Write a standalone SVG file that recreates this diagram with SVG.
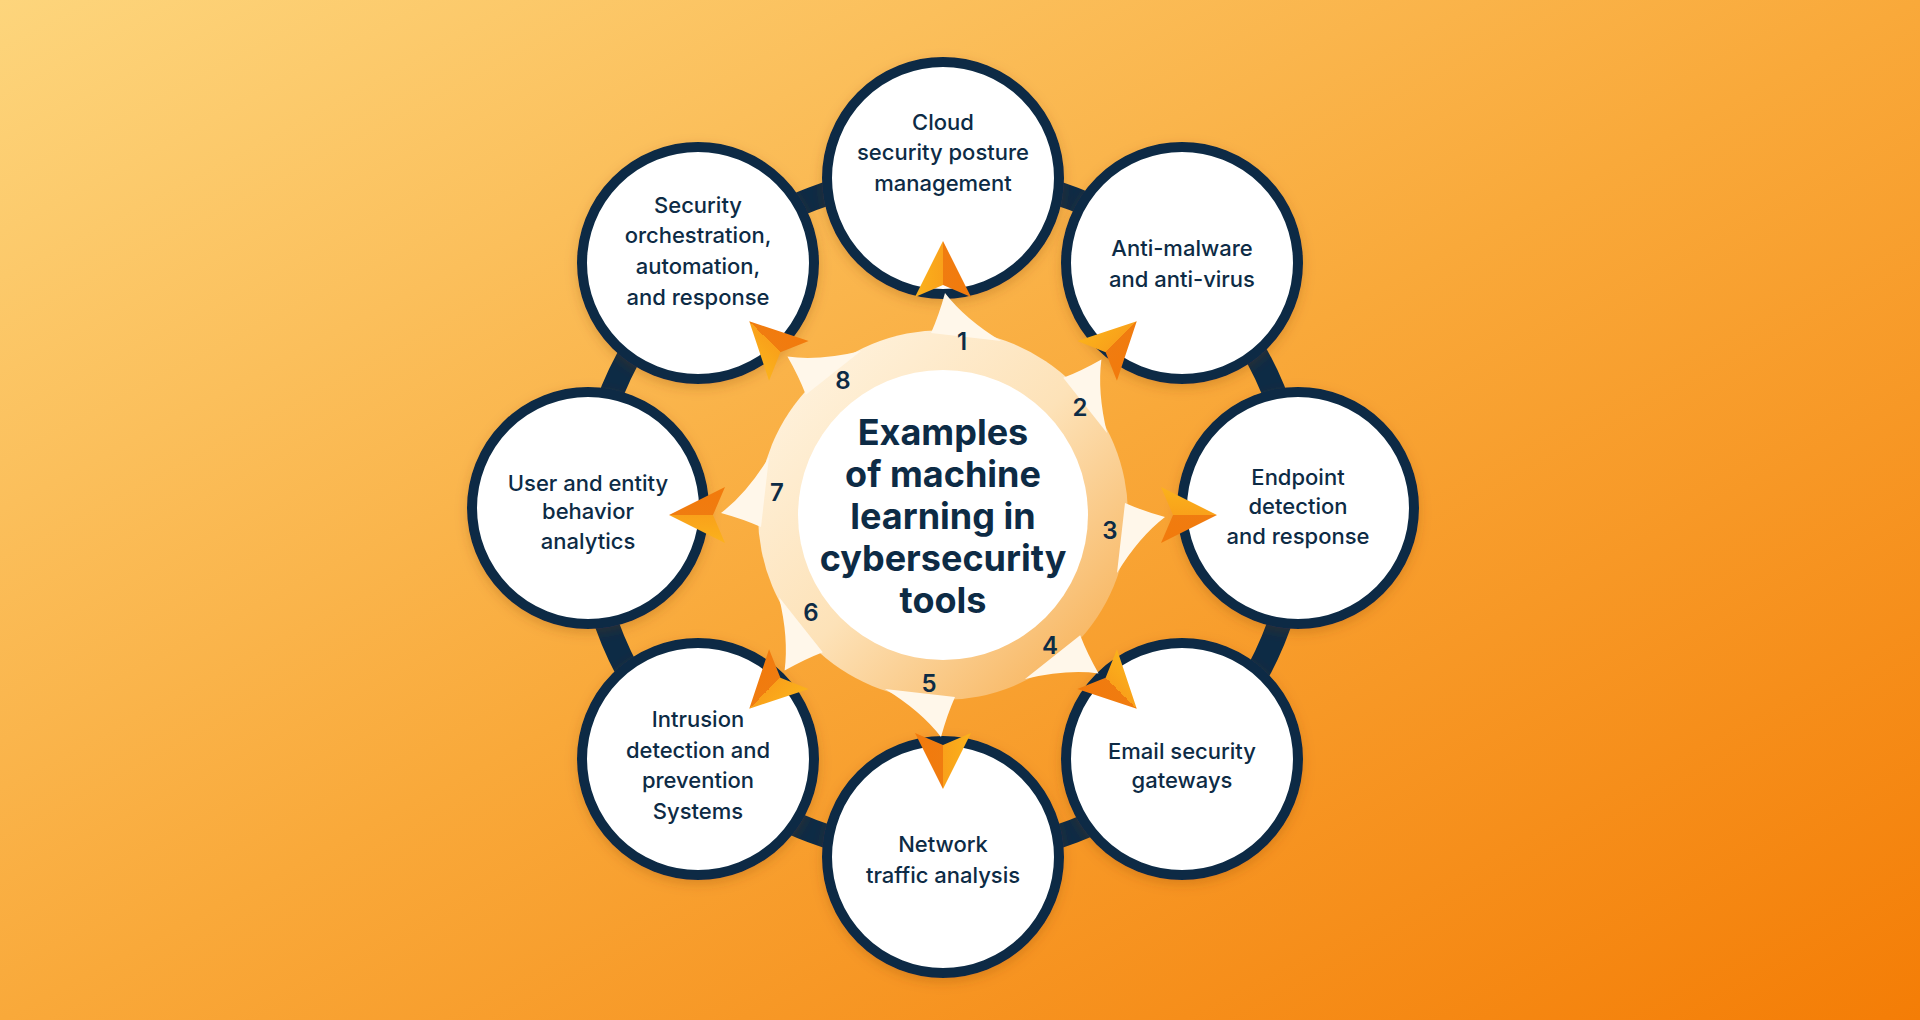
<svg xmlns="http://www.w3.org/2000/svg" width="1920" height="1020" viewBox="0 0 1920 1020">
<defs>
<linearGradient id="bg" x1="0" y1="0" x2="1" y2="1"><stop offset="0" stop-color="#fdd57c"/><stop offset="0.5" stop-color="#f9a93a"/><stop offset="1" stop-color="#f47d06"/></linearGradient>
<linearGradient id="ring" x1="0" y1="0" x2="1" y2="1"><stop offset="0" stop-color="#fff6e6"/><stop offset="0.5" stop-color="#fde2b8"/><stop offset="1" stop-color="#f6a947"/></linearGradient>
<linearGradient id="arr" x1="0" y1="0" x2="1" y2="0"><stop offset="0" stop-color="#fbb21c"/><stop offset="0.5" stop-color="#f9a11a"/><stop offset="0.5" stop-color="#f07c10"/><stop offset="1" stop-color="#f27a0c"/></linearGradient>
<g id="arrow"><polygon points="0,-274 -28,-218 0,-230 28,-218" fill="url(#arr)"/></g>
<path id="petal" d="M-12,-182 Q-4,-200 2,-222 Q22,-196 58,-174 Z" fill="#fff7ea"/>
<filter id="sh" x="-20%" y="-20%" width="140%" height="140%"><feDropShadow dx="0" dy="4" stdDeviation="6" flood-color="#7a3a00" flood-opacity="0.25"/></filter>
</defs>
<style>
.n{fill:#fff;stroke:#0d2b45;stroke-width:10}
.t{font-family:Inter,"Liberation Sans",sans-serif;font-size:22px;fill:#0d2b45;text-anchor:middle;font-weight:500}
.c{font-family:Inter,"Liberation Sans",sans-serif;font-size:36px;fill:#0d2b45;text-anchor:middle;font-weight:700}
.num{font-family:Inter,"Liberation Sans",sans-serif;font-size:24px;fill:#0d2b45;text-anchor:middle;font-weight:600}
</style>
<rect width="1920" height="1020" fill="url(#bg)"/>
<g id="connectors">
<ellipse cx="943" cy="515" rx="355" ry="340" fill="none" stroke="#0d2b45" stroke-width="24"/>
</g>
<g id="node1"><circle class="n" cx="943" cy="178" r="116" filter="url(#sh)"/><text class="t" x="943" y="130">Cloud</text><text class="t" x="943" y="160">security posture</text><text class="t" x="943" y="191">management</text></g>
<g id="node2"><circle class="n" cx="1182" cy="263" r="116" filter="url(#sh)"/><text class="t" x="1182" y="256">Anti-malware</text><text class="t" x="1182" y="287">and anti-virus</text></g>
<g id="node3"><circle class="n" cx="1298" cy="508" r="116" filter="url(#sh)"/><text class="t" x="1298" y="485">Endpoint</text><text class="t" x="1298" y="514">detection</text><text class="t" x="1298" y="544">and response</text></g>
<g id="node4"><circle class="n" cx="1182" cy="759" r="116" filter="url(#sh)"/><text class="t" x="1182" y="759">Email security</text><text class="t" x="1182" y="788">gateways</text></g>
<g id="node5"><circle class="n" cx="943" cy="857" r="116" filter="url(#sh)"/><text class="t" x="943" y="852">Network</text><text class="t" x="943" y="883">traffic analysis</text></g>
<g id="node6"><circle class="n" cx="698" cy="759" r="116" filter="url(#sh)"/><text class="t" x="698" y="727">Intrusion</text><text class="t" x="698" y="758">detection and</text><text class="t" x="698" y="788">prevention</text><text class="t" x="698" y="819">Systems</text></g>
<g id="node7"><circle class="n" cx="588" cy="508" r="116" filter="url(#sh)"/><text class="t" x="588" y="491">User and entity</text><text class="t" x="588" y="519">behavior</text><text class="t" x="588" y="549">analytics</text></g>
<g id="node8"><circle class="n" cx="698" cy="263" r="116" filter="url(#sh)"/><text class="t" x="698" y="213">Security</text><text class="t" x="698" y="243">orchestration,</text><text class="t" x="698" y="274">automation,</text><text class="t" x="698" y="305">and response</text></g>
<g id="center">
<g transform="translate(943,515)">
<circle r="185" fill="url(#ring)"/>
<use href="#petal" transform="rotate(0)"/><use href="#petal" transform="rotate(45)"/><use href="#petal" transform="rotate(90)"/><use href="#petal" transform="rotate(135)"/><use href="#petal" transform="rotate(180)"/><use href="#petal" transform="rotate(225)"/><use href="#petal" transform="rotate(270)"/><use href="#petal" transform="rotate(315)"/>
<use href="#arrow" transform="rotate(0)"/><use href="#arrow" transform="rotate(45)"/><use href="#arrow" transform="rotate(90)"/><use href="#arrow" transform="rotate(135)"/><use href="#arrow" transform="rotate(180)"/><use href="#arrow" transform="rotate(225)"/><use href="#arrow" transform="rotate(270)"/><use href="#arrow" transform="rotate(315)"/>
<circle r="145" fill="#fff"/>
</g>
<text class="c" x="943" y="445">Examples</text><text class="c" x="943" y="487">of machine</text><text class="c" x="943" y="529">learning in</text><text class="c" x="943" y="571">cybersecurity</text><text class="c" x="943" y="613">tools</text>
<text class="num" x="962" y="350">1</text><text class="num" x="1080" y="416">2</text><text class="num" x="1110" y="539">3</text><text class="num" x="1050" y="654">4</text><text class="num" x="929" y="692">5</text><text class="num" x="811" y="621">6</text><text class="num" x="777" y="501">7</text><text class="num" x="843" y="389">8</text>
</g>
</svg>
